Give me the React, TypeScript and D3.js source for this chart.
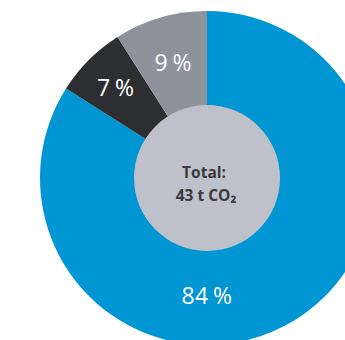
import React from "react";
import * as d3 from "d3";

const categories = ["Blue", "Black", "Gray"];
const values = [84, 7, 9];
const colors = ["#0095d3", "#2d2e32", "#8e929b"];
const totalLines = ["Total:", "43 t CO₂"];

export default function App() {
  const W = 345, H = 340;
  const cx = 207, cy = 178;
  const outerR = 167, innerR = 73, labelR = 121;
  const pie = d3.pie<number>().sort(null).startAngle(0).endAngle(2 * Math.PI);
  const arcs = pie(values);
  const arcGen = d3.arc<d3.PieArcDatum<number>>().innerRadius(0).outerRadius(outerR);
  const maxIdx = values.indexOf(d3.max(values)!);
  return (
    <svg width={W} height={H} style={{ position: "absolute", left: 0, top: 0 }}>
      <rect width={W} height={H} fill="#fff" />
      <g transform={`translate(${cx},${cy})`}>
        {arcs.map((a, i) => (
          <path key={categories[i]} d={arcGen(a)!} fill={colors[i]} />
        ))}
        <circle r={innerR} fill="#bfc1ca" />
        {arcs.map((a, i) => {
          const ang = i === maxIdx ? Math.PI : (a.startAngle + a.endAngle) / 2;
          const r = i === maxIdx ? 117 : labelR + (i === 1 ? 8 : 0);
          const x = Math.sin(ang) * r;
          const y = -Math.cos(ang) * r;
          return (
            <text key={"l" + i} x={x} y={y} textAnchor="middle" dominantBaseline="central"
              fill="#fff" fontFamily="'Open Sans', sans-serif" fontSize={23} letterSpacing={0.5}>
              {values[i]}{"\u2009"}%
            </text>
          );
        })}
        <text x={-3} y={-6} textAnchor="middle" dominantBaseline="central" fill="#3a3a3a"
          fontFamily="'Open Sans', sans-serif" fontWeight={700} fontSize={15.5}>
          {totalLines[0]}
        </text>
        <text x={-1} y={17} textAnchor="middle" dominantBaseline="central" fill="#3a3a3a"
          fontFamily="'Open Sans', sans-serif" fontWeight={700} fontSize={15.5}>
          {totalLines[1]}
        </text>
      </g>
    </svg>
  );
}
